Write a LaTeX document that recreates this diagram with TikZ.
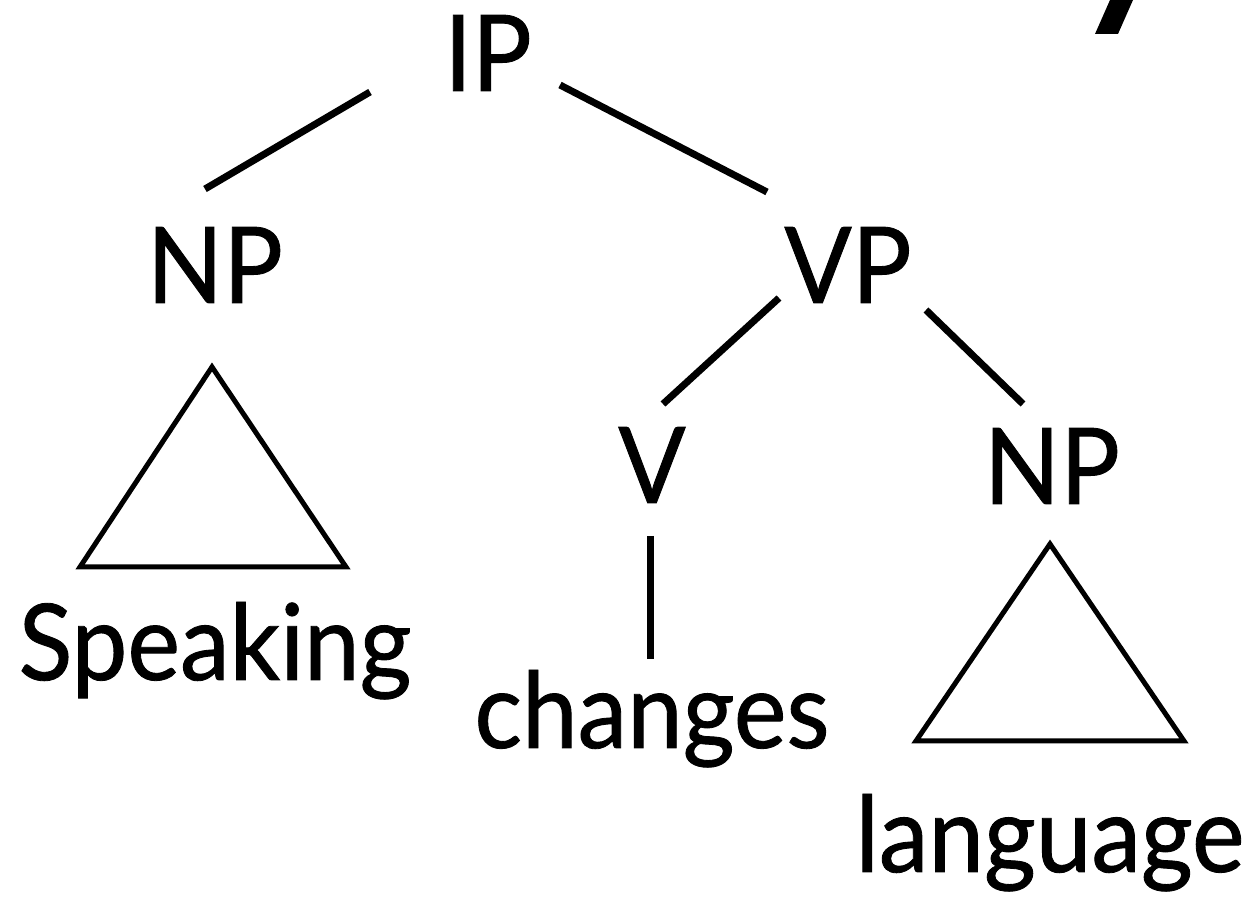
\documentclass[tikz,border=0pt]{standalone}
\usepackage{fontspec}
\setmainfont{Lato}[FakeStretch=0.94,FakeBold=0.8]
\usetikzlibrary{positioning}

\tikzset{
  cat/.style={inner sep=0pt, anchor=base, font=\fontsize{53}{60}\selectfont},
  branch/.style={line width=3.5pt},
  roof/.style={line width=2.5pt, line join=miter},
}

\begin{document}
\begin{tikzpicture}[x=0.5pt,y=-0.5pt]
          \useasboundingbox (0,0) rectangle (1250,898);
          % categories
          \node[cat] (ip) at (488,91) {IP};
          \node[cat] (np1) at (215,303) {NP};
          \node[cat] (vp) at (848,303) {VP};
          \node[cat] (v) at (652,503) {V};
          \node[cat] (np2) at (1052,504) {NP};
          % words
          \node[cat] (speaking) at (215,680) {Speaking};
          \node[cat] (changes) at (652,748) {changes};
          \node[cat] (language) at (1050,872) {language};
          % branch ends
          \coordinate (ip-l) at (370,92);
          \coordinate (ip-r) at (560,85);
          \coordinate (np1-t) at (205,189);
          \coordinate (vp-t) at (767,192);
          \coordinate (vp-l) at (779,298);
          \coordinate (vp-r) at (926,310);
          \coordinate (v-t) at (663,404);
          \coordinate (np2-t) at (1023,404);
          \coordinate (v-b) at (650,536);
          \coordinate (changes-t) at (650,659);
          \draw[branch] (ip-l) -- (np1-t);
          \draw[branch] (ip-r) -- (vp-t);
          \draw[branch] (vp-l) -- (v-t);
          \draw[branch] (vp-r) -- (np2-t);
          \draw[branch] (v-b) -- (changes-t);
          % roofs
          \draw[roof] (212,367) -- (346,567) -- (80,567) -- cycle;
          \draw[roof] (1050,544) -- (1184,741) -- (916,741) -- cycle;
          % slash at the corner
          \fill (1095,34) -- (1118,34) -- (1133,0) -- (1110,0) -- cycle;
        \end{tikzpicture}
\end{document}
